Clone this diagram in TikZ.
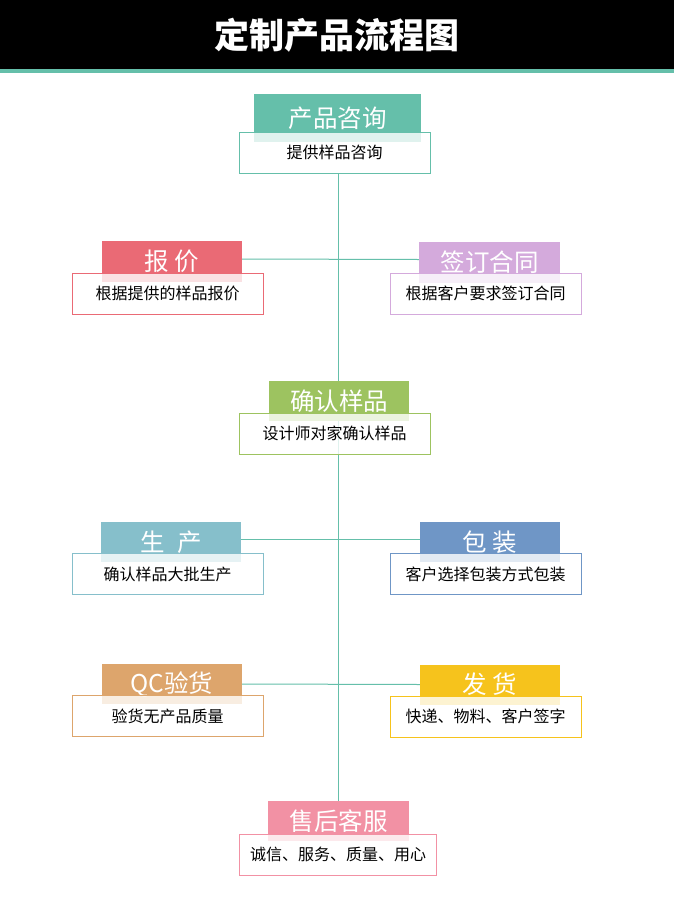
\documentclass[tikz,border=0pt]{standalone}
\usepackage{fontspec}
\setmainfont{Noto Sans CJK SC}
\usetikzlibrary{backgrounds}
\definecolor{cteal}{HTML}{65BFAA}
\definecolor{cred}{HTML}{EA6A75}
\definecolor{cpurple}{HTML}{D4AADC}
\definecolor{cgreen}{HTML}{9DC360}
\definecolor{ccyan}{HTML}{86BFCB}
\definecolor{cblue}{HTML}{6F96C6}
\definecolor{corange}{HTML}{DDA56C}
\definecolor{cyellow}{HTML}{F6C31C}
\definecolor{cpink}{HTML}{F291A4}
\tikzset{
  hdr/.style={fill=#1, text=white, inner sep=0pt, font=\fontsize{24.5}{26}\selectfont},
  body/.style={draw=#1, fill=white, fill opacity=0.8, draw opacity=1, text opacity=1, text=black,
    inner sep=0pt, minimum width=191pt, minimum height=41pt, line width=0.9pt,
    font=\fontsize{16}{18}\selectfont},
  link/.style={draw=cteal, line width=1pt}
}
\begin{document}
\begin{tikzpicture}[x=1pt,y=-1pt]
\useasboundingbox (0,0) rectangle (674,908);
% title
\node[fill=black, minimum width=674pt, minimum height=70pt, inner sep=0pt, anchor=north west,
  text=white, font=\bfseries\fontsize{35}{36}\selectfont] (title) at (0,0) {定制产品流程图};
\node[fill=cteal, minimum width=674pt, minimum height=4pt, inner sep=0pt, anchor=north west] (stripe) at (0,69) {};
% 1
\node[hdr=cteal, minimum width=167pt, minimum height=48pt] (h1) at (337.5,118) {产品咨询};
\node[body=cteal] (b1) at (334.5,152.5) {提供样品咨询};
% 2
\node[hdr=cred, minimum width=140pt, minimum height=41pt] (h2) at (172,261.5) {报 价};
\node[body=cred] (b2) at (167.5,293.5) {根据提供的样品报价};
% 3
\node[hdr=cpurple, minimum width=141pt, minimum height=41pt] (h3) at (489.5,262) {签订合同};
\node[body=cpurple] (b3) at (485.5,293.5) {根据客户要求签订合同};
% 4
\node[hdr=cgreen, minimum width=140pt, minimum height=40pt] (h4) at (339,401) {确认样品};
\node[body=cgreen] (b4) at (334.5,433.5) {设计师对家确认样品};
% 5
\node[hdr=ccyan, minimum width=140pt, minimum height=40pt] (h5) at (171,542) {生\hspace{0.5em}产};
\node[body=ccyan] (b5) at (167.5,574) {确认样品大批生产};
% 6
\node[hdr=cblue, minimum width=140pt, minimum height=40pt] (h6) at (490,542) {包 装};
\node[body=cblue] (b6) at (485.5,574) {客户选择包装方式包装};
% 7
\node[hdr=corange, minimum width=140pt, minimum height=40pt] (h7) at (172,684) {QC验货};
\node[body=corange] (b7) at (167.5,716) {验货无产品质量};
% 8
\node[hdr=cyellow, minimum width=140pt, minimum height=40pt] (h8) at (490,684.5) {发 货};
\node[body=cyellow] (b8) at (485.5,716.5) {快递、物料、客户签字};
% 9
\node[hdr=cpink, minimum width=141pt, minimum height=40pt] (h9) at (338.5,821) {售后客服};
\node[body=cpink, minimum width=197pt] (b9) at (338,854.5) {诚信、服务、质量、用心};
% connectors
\begin{scope}[on background layer]
\fill[white] (0,0) rectangle (674,908);
\draw[link] (b1.south -| h9.north) -- (h9.north);
\draw[link] ([yshift=2.5pt]h2.east) -- ([yshift=2.5pt]h3.west);
\draw[link] ([yshift=2.5pt]h5.east) -- ([yshift=2.5pt]h6.west);
\draw[link] ([yshift=0pt]h7.east) -- ([yshift=0pt]h8.west);
\end{scope}
\end{tikzpicture}
\end{document}
